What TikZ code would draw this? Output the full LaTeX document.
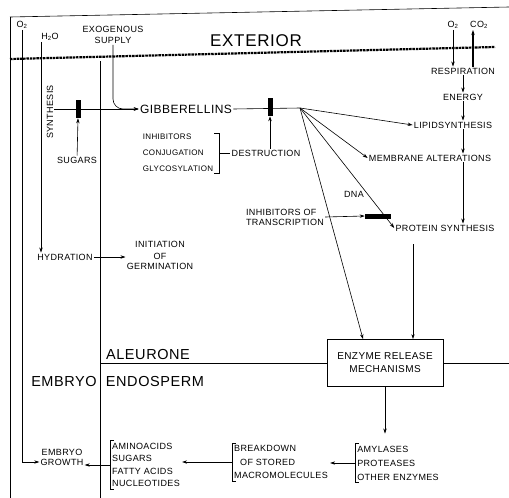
\documentclass[tikz,border=0pt]{standalone}
\usepackage{fontspec}
\usepackage{tikz}
\usetikzlibrary{arrows.meta,positioning}
\newfontfamily\lettering{Liberation Sans}[LetterSpace=4]

\begin{document}
\begin{tikzpicture}[x=1pt, y=-1pt, line width=0.6pt,
    lbl/.style={font=\lettering\fontsize{9}{12}\selectfont, inner sep=1pt, align=center},
    big/.style={font=\lettering\fontsize{14.5}{16}\selectfont, inner sep=1pt},
    box/.style={rectangle, draw, line width=0.8pt, minimum width=116pt, minimum height=47pt,
                font=\lettering\fontsize{10}{13}\selectfont, align=center},
    blk/.style={rectangle, fill=black, inner sep=0pt, minimum width=5pt, minimum height=18pt},
    arr/.style={-{Stealth[length=5pt,width=3.4pt]}},
    ground/.style={line width=2.2pt, dash pattern=on 2.5pt off 0.8pt}
  ]
  \useasboundingbox (0,0) rectangle (509,498);

  % frame, soil line and embryo wall
  \draw (10,17) -- (509,7);
  \draw (10,17) -- (10,498);
  \draw[ground] (10,59) -- (495,47);
  \coordinate (wallT) at (100,61);
  \coordinate (wallB) at (100,498);
  \draw (wallT) -- (wallB);

  \node[big, font=\lettering\fontsize{17}{19}\selectfont] (ext) at (256,41) {EXTERIOR};
  \node[lbl] (o2l) at (22,25) {O\textsubscript{2}};
  \node[lbl] (h2o) at (50,37) {H\textsubscript{2}O};
  \node[lbl] (exo) at (113,35) {EXOGENOUS\\[-1pt]SUPPLY};
  \node[lbl] (o2r) at (453,25) {O\textsubscript{2}};
  \node[lbl] (co2) at (479,25) {CO\textsubscript{2}};

  \node[lbl] (resp)   at (463,71)  {RESPIRATION};
  \node[lbl] (energy) at (463,97)  {ENERGY};
  \node[lbl] (lipid)  at (453,125) {LIPIDSYNTHESIS};
  \node[lbl] (memb)   at (430,158) {MEMBRANE ALTERATIONS};
  \node[lbl] (prot)   at (445,228) {PROTEIN SYNTHESIS};

  \node[lbl, rotate=90] (synth) at (50,112) {SYNTHESIS};
  \node[blk] (sblk) at (78,109) {};
  \node[lbl] (sugars) at (77,160) {SUGARS};
  \node[font=\lettering\fontsize{12}{14}\selectfont, inner sep=1pt] (gib) at (186,109) {GIBBERELLINS};
  \node[blk] (gblk) at (270,107) {};
  \coordinate (fan) at (300,108);

  \node[lbl, align=left, font=\lettering\fontsize{8}{12}\selectfont] (inh) at (178,153) {INHIBITORS\\[4pt]CONJUGATION\\[4pt]GLYCOSYLATION};
  \node[lbl] (destr) at (266,153) {DESTRUCTION};
  \node[lbl] (dna) at (354,194) {DNA};
  \node[lbl, align=left] (inht) at (285,217) {INHIBITORS OF\\[-2pt]TRANSCRIPTION};
  \node[blk, minimum width=26pt, minimum height=5pt] (dblk) at (378,216) {};

  \node[lbl] (hydr) at (65,257) {HYDRATION};
  \node[lbl] (init) at (160,255) {INITIATION\\OF\\[-2pt]GERMINATION};

  \node[big] (aleu) at (148,355) {ALEURONE};
  \node[big] (embryo) at (64,382) {EMBRYO};
  \node[big] (endo) at (155,382) {ENDOSPERM};
  \node[box] (enz) at (385,363) {ENZYME RELEASE\\MECHANISMS};

  \node[lbl] (egrowth) at (62,457) {EMBRYO\\[-2pt]GROWTH};
  \node[lbl, align=left, inner sep=2pt] (amino) at (146,465) {AMINOACIDS\\[0.5pt]SUGARS\\[0.5pt]FATTY ACIDS\\[0.5pt]NUCLEOTIDES};
  \node[lbl, align=left, inner sep=2pt] (brk) at (281,462) {BREAKDOWN\\[1.5pt]\hspace*{6pt}OF STORED\\[1.5pt]MACROMOLECULES};
  \node[lbl, align=left, inner sep=2pt] (amyl) at (398,463) {AMYLASES\\[2pt]PROTEASES\\[2pt]OTHER ENZYMES};

  % exterior exchange and energy chain
  \draw[arr] (o2r.south) -- (o2r.south |- resp.north);
  \draw[arr, line width=1.4pt] ([xshift=-6pt]co2.south |- resp.north) -- ([xshift=-6pt]co2.south);
  \draw[arr] (resp) -- (energy);
  \draw[arr] (energy) -- (energy |- lipid.north);
  \draw[arr] (energy |- lipid.south) -- (energy |- memb.north);
  \draw[arr] (energy |- memb.south) -- (energy |- prot.north);

  % gibberellin supply and fate
  \draw[arr] (synth.south |- gib.west) -- (gib.west);
  \draw[arr, rounded corners=10pt] (exo.south) |- (gib.west);
  \draw[arr] (sugars) -- (sblk.south);
  \draw (gib.east) -- (fan);
  \draw[arr] (destr.north -| gblk) -- (gblk.south);
  \draw (inh.north east) -- ++(5,0) |- (inh.south east);
  \draw ([xshift=5pt]inh.east) -- (destr.west);

  \draw[arr] (fan) -- (lipid.west);
  \draw[arr] (fan) -- (memb.west);
  \draw[arr] (fan) -- (prot.west);
  \draw[arr] (fan) -- ([xshift=-22pt]enz.north);
  \draw[arr] (inht.east) -- (dblk.west);
  \draw[arr] ([xshift=28pt]enz.north |- prot.south) ++(0,12) -- ([xshift=28pt]enz.north);

  % water and oxygen to the embryo
  \draw[arr] ([xshift=-9pt]h2o.south) -- ([xshift=-9pt]h2o.south |- hydr.north);
  \draw[arr] (hydr.east) -- (hydr.east -| init.west);
  \draw[arr] (o2l.south) |- ([yshift=-5pt]egrowth.west);

  % aleurone / endosperm boundary
  \draw (wallT |- enz.west) -- (enz.west);
  \draw (enz.east) -- (509,363);

  % hydrolysis chain
  \draw ([xshift=4pt]amino.north west) -- (amino.north west) -- (amino.south west) -- ([xshift=4pt]amino.south west);
  \draw ([xshift=4pt]brk.north west) -- (brk.north west) -- (brk.south west) -- ([xshift=4pt]brk.south west);
  \draw ([xshift=4pt]amyl.north west) -- (amyl.north west) -- (amyl.south west) -- ([xshift=4pt]amyl.south west);
  \draw[arr, shorten >=10pt] (enz.south) -- (enz.south |- amyl.north);
  \draw[arr] (amyl.west) -- (brk.east |- amyl.west);
  \draw[arr] (brk.west) -- (amino.east |- brk.west);
  \draw[arr] (amino.west) -- (egrowth.east |- amino.west);
\end{tikzpicture}
\end{document}
